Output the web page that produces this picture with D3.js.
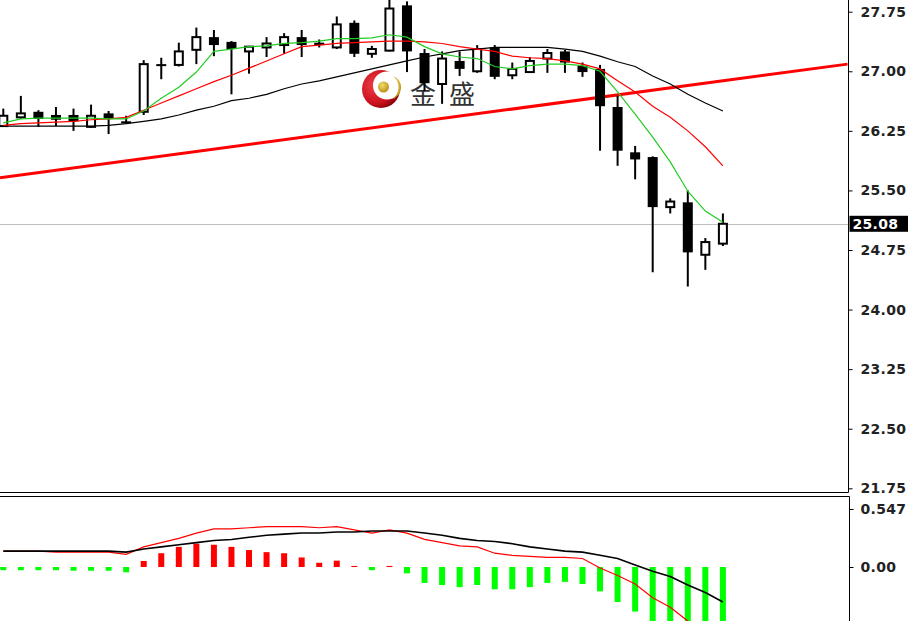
<!DOCTYPE html>
<html><head><meta charset="utf-8">
<script src="https://cdn.jsdelivr.net/npm/d3@7"></script>
<style>body{margin:0;background:#fff;} svg{display:block;}</style>
</head><body><svg id="c" width="908" height="621"></svg>
<script>
// ---------- data ----------
const openP  = [26.31,26.42,26.49,26.45,26.45,26.30,26.47,26.37,26.49,27.09,27.08,27.27,27.43,27.37,27.25,27.30,27.33,27.43,27.36,27.30,27.61,27.22,27.26,27.83,27.23,26.84,27.13,27.00,27.30,26.95,26.99,27.16,27.25,27.07,27.03,26.55,25.98,25.92,25.29,25.35,24.69,24.83];
const highP  = [26.53,26.69,26.51,26.55,26.53,26.58,26.50,26.44,27.14,27.17,27.36,27.55,27.52,27.38,27.32,27.43,27.48,27.52,27.40,27.69,27.64,27.32,27.90,27.88,27.28,27.25,27.25,27.33,27.33,27.11,27.18,27.28,27.27,27.11,27.08,26.69,26.06,25.93,25.40,25.50,24.90,25.21];
const lowP   = [26.30,26.40,26.30,26.31,26.25,26.29,26.21,26.34,26.45,26.90,27.06,27.09,27.19,26.71,26.97,27.18,27.22,27.18,27.30,27.28,27.18,27.17,27.25,26.99,26.75,26.59,26.94,26.98,26.90,26.90,26.98,26.98,26.98,26.93,26.00,25.81,25.64,24.47,25.21,24.29,24.50,24.80];
const closeP = [26.44,26.47,26.40,26.39,26.37,26.44,26.40,26.36,27.09,27.07,27.25,27.43,27.33,27.28,27.31,27.35,27.43,27.33,27.33,27.59,27.22,27.28,27.79,27.25,26.85,27.16,27.03,27.28,26.93,27.03,27.13,27.23,27.11,26.99,26.56,26.00,25.89,25.29,25.36,24.72,24.85,25.08];

const maFast = [26.35,26.40,26.41,26.41,26.41,26.41,26.40,26.40,26.50,26.66,26.80,26.99,27.25,27.28,27.31,27.32,27.35,27.36,27.38,27.41,27.41,27.42,27.46,27.43,27.31,27.22,27.18,27.16,27.06,27.03,27.07,27.09,27.09,27.07,27.00,26.74,26.46,26.17,25.86,25.49,25.24,25.10];
const maMid  = [26.32,26.34,26.35,26.36,26.37,26.39,26.40,26.42,26.51,26.60,26.69,26.78,26.87,26.95,27.04,27.13,27.22,27.31,27.33,27.35,27.36,27.37,27.38,27.38,27.37,27.35,27.31,27.28,27.25,27.19,27.17,27.16,27.13,27.09,27.03,26.88,26.74,26.56,26.42,26.25,26.05,25.81];
const maSlow = [26.31,26.31,26.31,26.31,26.31,26.31,26.32,26.34,26.37,26.40,26.45,26.51,26.56,26.63,26.66,26.71,26.78,26.84,26.88,26.93,26.98,27.03,27.08,27.13,27.18,27.22,27.26,27.28,27.30,27.30,27.30,27.30,27.28,27.25,27.19,27.12,27.06,26.94,26.84,26.71,26.60,26.50];

const trendIdx   = [-0.19, 48.1];
const trendPrice = [25.66, 27.09];
const lastPrice  = 25.08;

const macdHist  = [-0.03,-0.03,-0.03,-0.03,-0.035,-0.035,-0.035,-0.05,0.057,0.13,0.19,0.22,0.21,0.19,0.16,0.14,0.13,0.09,0.04,0.06,0.01,-0.03,0.01,-0.06,-0.15,-0.17,-0.19,-0.17,-0.21,-0.21,-0.19,-0.15,-0.14,-0.16,-0.23,-0.33,-0.42,-0.55,-0.62,-0.70,-0.75,-0.78];
const macdBlack = [0.15,0.15,0.15,0.15,0.15,0.15,0.15,0.14,0.17,0.19,0.21,0.23,0.25,0.26,0.28,0.30,0.31,0.32,0.32,0.33,0.33,0.34,0.34,0.34,0.32,0.30,0.27,0.25,0.24,0.22,0.19,0.17,0.15,0.14,0.11,0.08,0.02,-0.04,-0.09,-0.17,-0.24,-0.33];
const macdRed   = [0.15,0.15,0.15,0.14,0.14,0.14,0.14,0.12,0.19,0.23,0.27,0.32,0.36,0.36,0.37,0.38,0.38,0.38,0.37,0.38,0.35,0.32,0.35,0.32,0.26,0.23,0.20,0.19,0.13,0.11,0.10,0.09,0.09,0.08,-0.01,-0.08,-0.16,-0.29,-0.38,-0.51,-0.62,-0.74];

const priceTicks = [27.75,27.00,26.25,25.50,24.75,24.00,23.25,22.50,21.75];
const macdTicks = [0.547, 0.00];
const macdTickLabels = ["0.547","0.00"];
const logoText = ["金","盛"];

// ---------- layout ----------
const AX = 848.5;
const mainBottom = 492.5, macdTop = 496.5, H = 621;
const x  = d3.scaleLinear().domain([0, 41]).range([3.3, 722.9]);
const y  = d3.scaleLinear().domain([21.75, 27.75]).range([488.3, 11.7]);
const ym = d3.scaleLinear().domain([0, 0.547]).range([567, 509]);

const svg = d3.select("#c");
const defs = svg.append("defs");
defs.append("clipPath").attr("id","clipMain").append("rect").attr("x",0).attr("y",0).attr("width",848).attr("height",492);
defs.append("clipPath").attr("id","clipMacd").append("rect").attr("x",0).attr("y",497).attr("width",848).attr("height",124);
const rg = defs.append("radialGradient").attr("id","logoRed").attr("cx","35%").attr("cy","40%").attr("r","70%");
rg.append("stop").attr("offset","0%").attr("stop-color","#f0404a");
rg.append("stop").attr("offset","70%").attr("stop-color","#c8101c");
rg.append("stop").attr("offset","100%").attr("stop-color","#7a0008");
const gg = defs.append("radialGradient").attr("id","logoGold").attr("cx","40%").attr("cy","35%").attr("r","70%");
gg.append("stop").attr("offset","0%").attr("stop-color","#f3dd6a");
gg.append("stop").attr("offset","100%").attr("stop-color","#b88a10");

const main = svg.append("g").attr("clip-path","url(#clipMain)");

// current price line
main.append("line").attr("x1",0).attr("x2",848).attr("y1",Math.round(y(lastPrice))+0.5).attr("y2",Math.round(y(lastPrice))+0.5)
  .attr("stroke","#c0c0c0").attr("stroke-width",1);

// watermark logo
const logo = main.append("g");
logo.append("circle").attr("cx",381).attr("cy",89).attr("r",19).attr("fill","url(#logoRed)");
logo.append("circle").attr("cx",387).attr("cy",85.5).attr("r",14).attr("fill","#fff");
logo.append("path").attr("d","M393,76 A12,12 0 0 1 392,99 A14,14 0 0 0 393,76 Z").attr("fill","url(#logoGold)");
logo.append("circle").attr("cx",383.5).attr("cy",87).attr("r",5.5).attr("fill","url(#logoGold)");
logo.selectAll("text.lt").data(logoText).enter().append("text")
  .attr("x",(d,i)=>410 + i*39).attr("y",104)
  .attr("font-family","'Noto Sans CJK SC','Noto Sans CJK JP',sans-serif").attr("font-size",26)
  .attr("fill","#333").text(d=>d);

// trend line
const tline = d3.line().x(d=>x(d[0])).y(d=>y(d[1]));
main.append("path").datum(trendIdx.map((v,i)=>[v,trendPrice[i]]))
  .attr("d",tline).attr("fill","none").attr("stroke","#ff0000").attr("stroke-width",3);

// candles
const idx = d3.range(openP.length);
const cg = main.append("g");
cg.selectAll("line.w").data(idx).enter().append("line")
  .attr("x1",i=>x(i)).attr("x2",i=>x(i))
  .attr("y1",i=>y(highP[i])).attr("y2",i=>y(lowP[i]))
  .attr("stroke","#000").attr("stroke-width",2);
cg.selectAll("rect.b").data(idx).enter().append("rect")
  .attr("x",i=> closeP[i]>=openP[i] ? x(i)-4 : x(i)-5)
  .attr("width",i=> closeP[i]>=openP[i] ? 8 : 10)
  .attr("y",i=>y(Math.max(openP[i],closeP[i])))
  .attr("height",i=>Math.max(2, y(Math.min(openP[i],closeP[i])) - y(Math.max(openP[i],closeP[i]))))
  .attr("fill",i=> closeP[i]>=openP[i] ? "#fff" : "#000")
  .attr("stroke",i=> closeP[i]>=openP[i] ? "#000" : "none")
  .attr("stroke-width",2);

// moving averages
const mline = d3.line().x((d,i)=>x(i)).y(d=>y(d));
main.append("path").datum(maSlow).attr("d",mline).attr("fill","none").attr("stroke","#000").attr("stroke-width",1.2);
main.append("path").datum(maMid).attr("d",mline).attr("fill","none").attr("stroke","#ff0000").attr("stroke-width",1.2);
main.append("path").datum(maFast).attr("d",mline).attr("fill","none").attr("stroke","#22cc22").attr("stroke-width",1.2);

// MACD panel
const mg = svg.append("g").attr("clip-path","url(#clipMacd)");
mg.selectAll("rect.h").data(idx).enter().append("rect")
  .attr("x",i=>x(i)-3).attr("width",6)
  .attr("y",i=>Math.min(ym(0), ym(macdHist[i])))
  .attr("height",i=>Math.max(1, Math.abs(ym(macdHist[i]) - ym(0))))
  .attr("fill",i=> macdHist[i]>=0 ? "#ff0000" : "#00ff00");
const mline2 = d3.line().x((d,i)=>x(i)).y(d=>ym(d));
mg.append("path").datum(macdRed).attr("d",mline2).attr("fill","none").attr("stroke","#ff0000").attr("stroke-width",1.2);
mg.append("path").datum(macdBlack).attr("d",mline2).attr("fill","none").attr("stroke","#000").attr("stroke-width",1.6);

// frames
const fr = svg.append("g").attr("stroke","#000").attr("stroke-width",1);
fr.append("line").attr("x1",AX).attr("x2",AX).attr("y1",0).attr("y2",mainBottom);
fr.append("line").attr("x1",0).attr("x2",AX).attr("y1",mainBottom).attr("y2",mainBottom);
fr.append("line").attr("x1",0).attr("x2",AX+1).attr("y1",macdTop).attr("y2",macdTop);
fr.append("line").attr("x1",AX+1).attr("x2",AX+1).attr("y1",macdTop).attr("y2",H);

// axes
const fontFam = "'DejaVu Sans', Verdana, sans-serif";
const ax1 = svg.append("g").attr("transform",`translate(${AX},0)`)
  .call(d3.axisRight(y).tickValues(priceTicks).tickFormat(d3.format(".2f")).tickSize(4).tickPadding(8));
const ax2 = svg.append("g").attr("transform",`translate(${AX+1},0)`)
  .call(d3.axisRight(ym).tickValues(macdTicks).tickFormat((d,i)=>macdTickLabels[i]).tickSize(4).tickPadding(7));
[ax1,ax2].forEach(a=>{
  a.select(".domain").remove();
  a.selectAll("text").attr("font-family",fontFam).attr("font-size",14).attr("font-weight","bold")
    .attr("fill","#222").attr("letter-spacing","0.3px");
  a.selectAll("line").attr("stroke","#000");
});

// last price tag
const tag = svg.append("g").attr("transform",`translate(${AX+1},${y(lastPrice)})`);
tag.append("rect").attr("x",0).attr("y",-8).attr("width",60).attr("height",16).attr("fill","#000");
tag.append("text").attr("x",3).attr("y",0).attr("dy","0.35em").attr("font-family",fontFam).attr("font-size",14)
  .attr("font-weight","bold").attr("letter-spacing","0.3px").attr("fill","#fff").text(d3.format(".2f")(lastPrice));
</script>
</body></html>
